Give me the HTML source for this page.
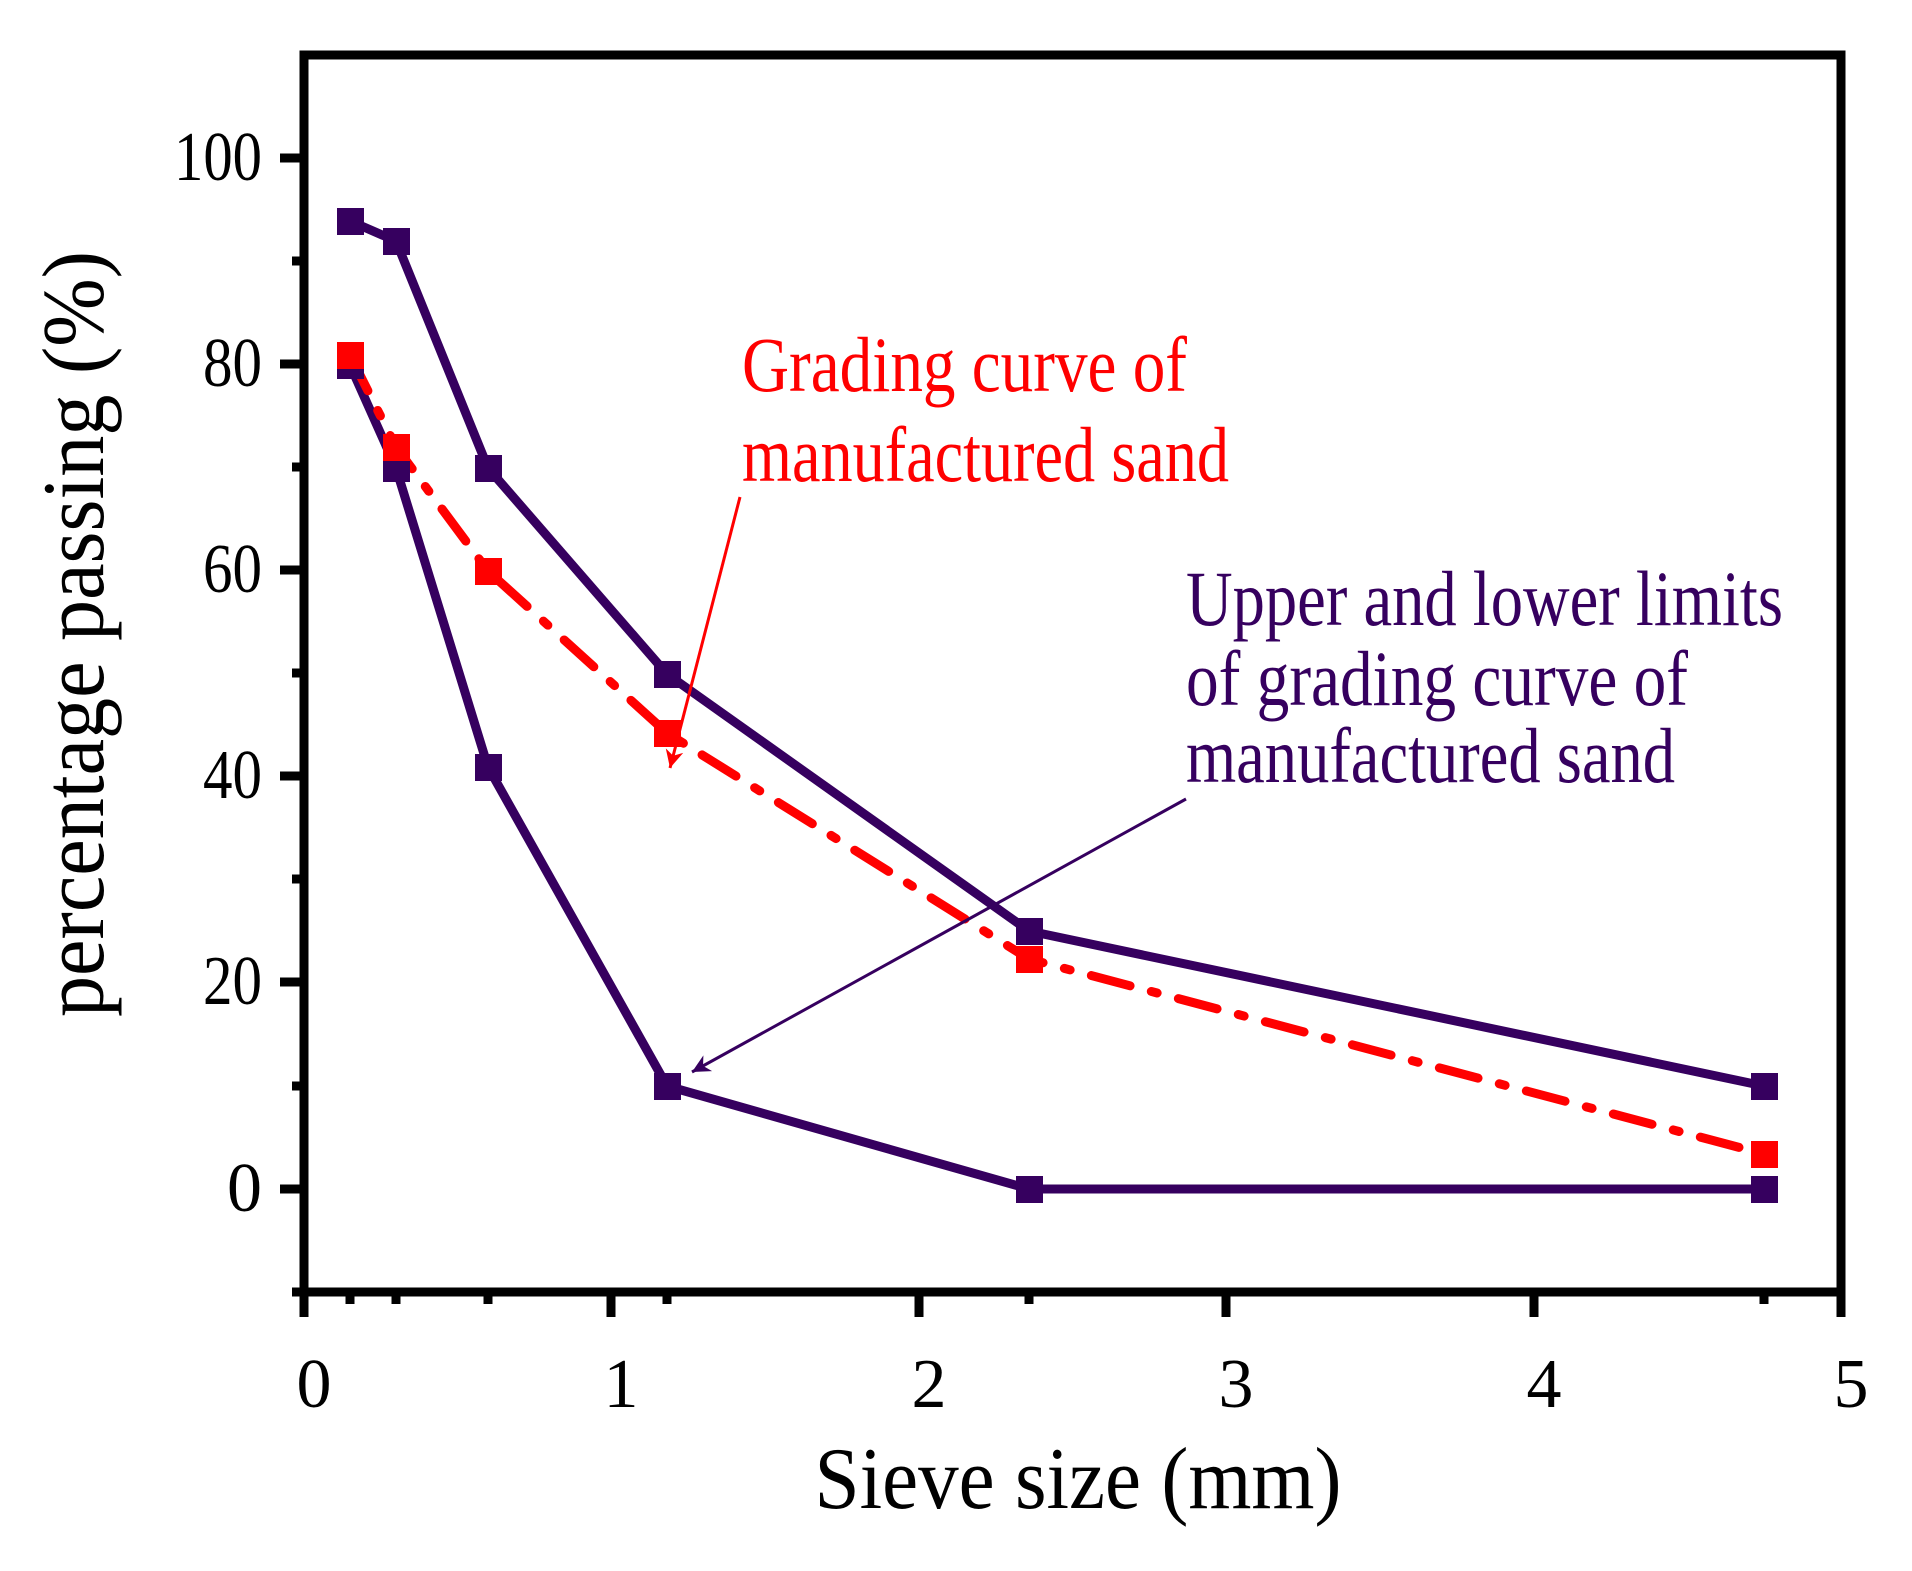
<!DOCTYPE html>
<html><head><meta charset="utf-8"><style>html,body{margin:0;padding:0;background:#fff}svg{display:block}</style></head>
<body>
<svg width="1912" height="1571" viewBox="0 0 1912 1571" xmlns="http://www.w3.org/2000/svg" font-family="Liberation Serif, serif">
<defs>
<marker id="ar" viewBox="0 0 10 10" refX="10" refY="5" markerWidth="55" markerHeight="18" markerUnits="userSpaceOnUse" orient="auto"><path d="M0,0 L10,5 L0,10 L3,5 Z" fill="red"/></marker>
<marker id="ap" viewBox="0 0 10 10" refX="10" refY="5" markerWidth="55" markerHeight="18" markerUnits="userSpaceOnUse" orient="auto"><path d="M0,0 L10,5 L0,10 L3,5 Z" fill="#36005f"/></marker>
</defs>
<rect x="304" y="55" width="1537" height="1237" fill="none" stroke="#000" stroke-width="9"/>
<g stroke="#000" stroke-width="9">
<line x1="280" y1="158" x2="304" y2="158"/><line x1="280" y1="364" x2="304" y2="364"/><line x1="280" y1="570" x2="304" y2="570"/><line x1="280" y1="776" x2="304" y2="776"/><line x1="280" y1="982" x2="304" y2="982"/><line x1="280" y1="1189" x2="304" y2="1189"/>
<line x1="292" y1="261" x2="304" y2="261"/><line x1="292" y1="467" x2="304" y2="467"/><line x1="292" y1="673" x2="304" y2="673"/><line x1="292" y1="879" x2="304" y2="879"/><line x1="292" y1="1086" x2="304" y2="1086"/><line x1="292" y1="1292" x2="304" y2="1292"/>
<line x1="304" y1="1292" x2="304" y2="1317"/><line x1="611" y1="1292" x2="611" y2="1317"/><line x1="919" y1="1292" x2="919" y2="1317"/><line x1="1226" y1="1292" x2="1226" y2="1317"/><line x1="1534" y1="1292" x2="1534" y2="1317"/><line x1="1841" y1="1292" x2="1841" y2="1317"/>
<line x1="350" y1="1292" x2="350" y2="1304"/><line x1="396" y1="1292" x2="396" y2="1304"/><line x1="488" y1="1292" x2="488" y2="1304"/><line x1="667" y1="1292" x2="667" y2="1304"/><line x1="1029" y1="1292" x2="1029" y2="1304"/><line x1="1764" y1="1292" x2="1764" y2="1304"/>
</g>
<g font-size="70" text-anchor="end" fill="#000">
<text x="262" y="180" textLength="88" lengthAdjust="spacingAndGlyphs">100</text><text x="262" y="386" textLength="59" lengthAdjust="spacingAndGlyphs">80</text><text x="262" y="592" textLength="59" lengthAdjust="spacingAndGlyphs">60</text><text x="262" y="798" textLength="59" lengthAdjust="spacingAndGlyphs">40</text><text x="262" y="1004" textLength="59" lengthAdjust="spacingAndGlyphs">20</text><text x="262" y="1211">0</text>
</g>
<g font-size="70" text-anchor="middle" fill="#000">
<text x="314" y="1407">0</text><text x="621" y="1407">1</text><text x="929" y="1407">2</text><text x="1236" y="1407">3</text><text x="1544" y="1407">4</text><text x="1851" y="1407">5</text>
</g>
<text x="1078" y="1508" font-size="88" text-anchor="middle" textLength="527" lengthAdjust="spacingAndGlyphs">Sieve size (mm)</text>
<text transform="translate(103,634) rotate(-90)" font-size="88" text-anchor="middle" textLength="766" lengthAdjust="spacingAndGlyphs">percentage passing (%)</text>
<g fill="none" stroke-width="9" stroke-linejoin="round">
<polyline stroke="#36005f" points="350,221 396,241 488,468 667,674 1029,931 1764,1086"/>
<polyline stroke="#36005f" points="350,365 396,468 488,767 667,1086 1029,1189 1764,1189"/>
<polyline stroke="red" stroke-dasharray="40,22,6,22" stroke-linecap="round" points="350,355 396,447 488,571 667,733 1029,959 1764,1154"/>
</g>
<g fill="#36005f">
<rect x="337" y="208" width="27" height="27"/><rect x="383" y="228" width="27" height="27"/><rect x="475" y="455" width="27" height="27"/><rect x="654" y="661" width="27" height="27"/><rect x="1016" y="918" width="27" height="27"/><rect x="1751" y="1073" width="27" height="27"/>
<rect x="337" y="352" width="27" height="27"/><rect x="383" y="455" width="27" height="27"/><rect x="475" y="754" width="27" height="27"/><rect x="654" y="1073" width="27" height="27"/><rect x="1016" y="1176" width="27" height="27"/><rect x="1751" y="1176" width="27" height="27"/>
</g>
<g fill="red">
<rect x="337" y="342" width="27" height="27"/><rect x="383" y="434" width="27" height="27"/><rect x="475" y="558" width="27" height="27"/><rect x="654" y="720" width="27" height="27"/><rect x="1016" y="946" width="27" height="27"/><rect x="1751" y="1141" width="27" height="27"/>
</g>
<text x="742" y="391" font-size="78" fill="red" textLength="445" lengthAdjust="spacingAndGlyphs">Grading curve of</text>
<text x="742" y="481" font-size="78" fill="red" textLength="487" lengthAdjust="spacingAndGlyphs">manufactured sand</text>
<line x1="740" y1="497" x2="670" y2="768" stroke="red" stroke-width="3" marker-end="url(#ar)"/>
<g font-size="78" fill="#36005f">
<text x="1186" y="625" textLength="597" lengthAdjust="spacingAndGlyphs">Upper and lower limits</text>
<text x="1186" y="705" textLength="502" lengthAdjust="spacingAndGlyphs">of grading curve of</text>
<text x="1186" y="782" textLength="489" lengthAdjust="spacingAndGlyphs">manufactured sand</text>
</g>
<line x1="1186" y1="799" x2="692" y2="1072" stroke="#36005f" stroke-width="3" marker-end="url(#ap)"/>
</svg>
</body></html>
